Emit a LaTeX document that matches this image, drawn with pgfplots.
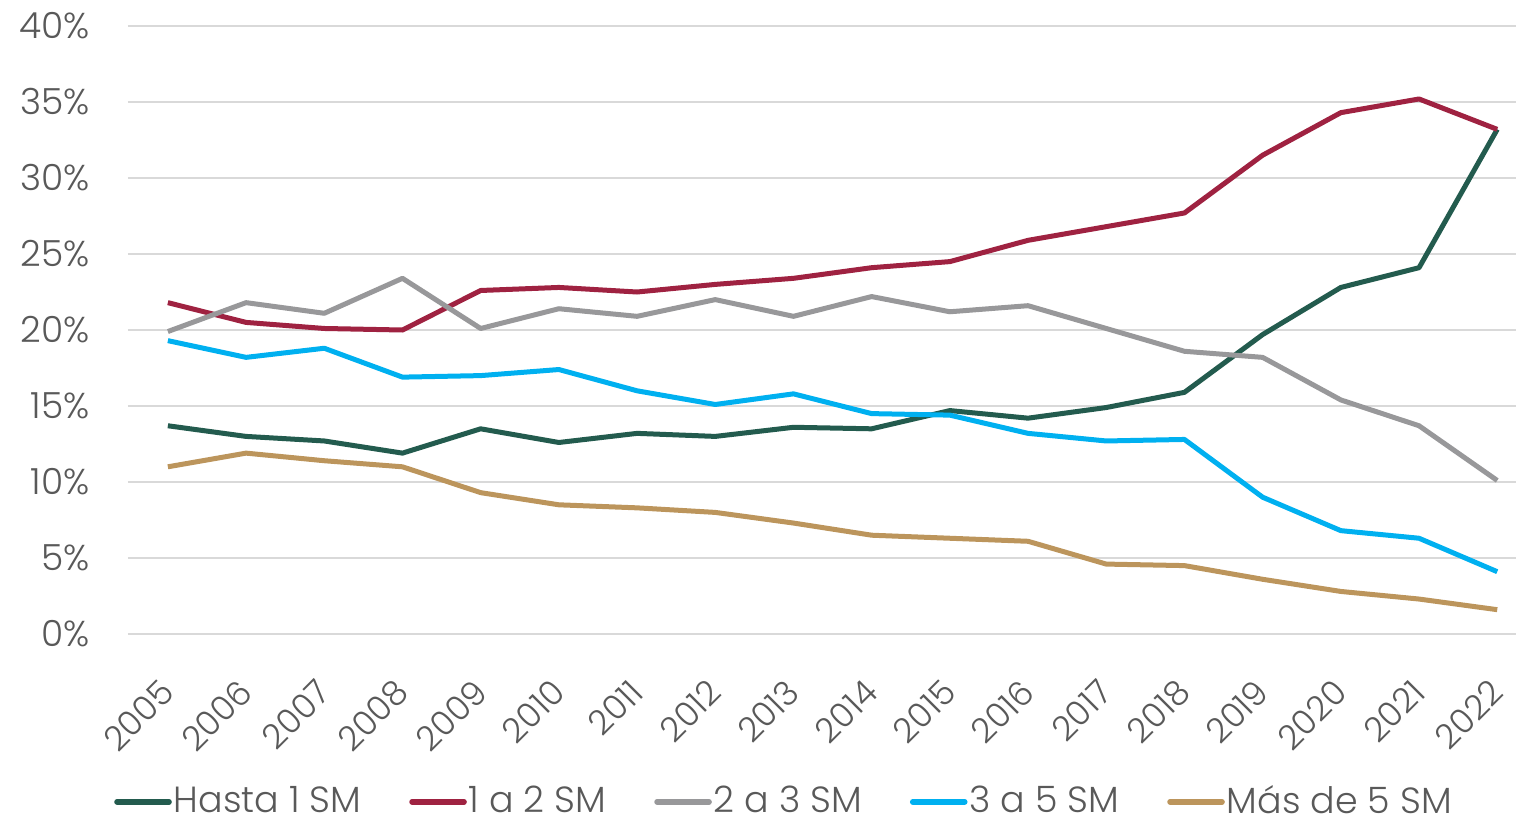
\documentclass[border=0pt]{standalone}
\usepackage{fontspec}
\IfFontExistsTF{Poppins Light}{\setmainfont{Poppins Light}}{\setmainfont{Poppins}}
\usepackage{pgfplots}
\pgfplotsset{compat=1.18}
\definecolor{cverde}{HTML}{235B4E}
\definecolor{cguinda}{HTML}{9F2241}
\definecolor{cgris}{HTML}{98989A}
\definecolor{ccian}{HTML}{00B0F0}
\definecolor{cdorado}{HTML}{BC955C}
\definecolor{ctext}{HTML}{595959}
\definecolor{cgrid}{HTML}{D9D9D9}
\begin{document}
\begin{tikzpicture}
\fontsize{18pt}{21pt}\selectfont
\begin{axis}[
  scale only axis,
  width=694pt, height=304pt,
  xmin=2004.49, xmax=2022.24,
  ymin=0, ymax=40,
  axis line style={draw=none},
  major tick length=0pt,
  xtick={2005,...,2022},
  ytick={0,5,...,40},
  yticklabel={\pgfmathprintnumber{\tick}\%},
  /pgf/number format/1000 sep={},
  /pgf/number format/assume math mode=true,
  ymajorgrids,
  grid style={cgrid, line width=0.8pt},
  ticklabel style={font=\fontsize{18pt}{21pt}\selectfont, text=ctext},
  yticklabel style={anchor=east, inner sep=0pt, xshift=-19pt},
  xticklabel style={anchor=east, rotate=45, inner sep=0pt, font=\fontsize{17pt}{20pt}\selectfont},
  xticklabel shift=26pt,
  legend columns=5,
  legend style={draw=none, fill=none, at={(0.4726,-0.276)}, anchor=center,
    font=\fontsize{18.2pt}{21pt}\selectfont, text=ctext,
    /tikz/every even column/.append style={column sep=23pt},
    nodes={inner sep=1pt}},
  legend image code/.code={\draw[#1, line width=2.8pt, line cap=round] (0pt,0pt) -- (26pt,0pt);},
  every axis plot/.append style={line width=2.5pt, line join=round},
]
\addplot[cverde] coordinates {(2005,13.7)(2006,13.0)(2007,12.7)(2008,11.9)(2009,13.5)(2010,12.6)(2011,13.2)(2012,13.0)(2013,13.6)(2014,13.5)(2015,14.7)(2016,14.2)(2017,14.9)(2018,15.9)(2019,19.7)(2020,22.8)(2021,24.1)(2022,33.2)};
\addlegendentry{Hasta 1 SM}
\addplot[cguinda] coordinates {(2005,21.8)(2006,20.5)(2007,20.1)(2008,20.0)(2009,22.6)(2010,22.8)(2011,22.5)(2012,23.0)(2013,23.4)(2014,24.1)(2015,24.5)(2016,25.9)(2017,26.8)(2018,27.7)(2019,31.5)(2020,34.3)(2021,35.2)(2022,33.2)};
\addlegendentry{1 a 2 SM}
\addplot[cgris] coordinates {(2005,19.9)(2006,21.8)(2007,21.1)(2008,23.4)(2009,20.1)(2010,21.4)(2011,20.9)(2012,22.0)(2013,20.9)(2014,22.2)(2015,21.2)(2016,21.6)(2017,20.1)(2018,18.6)(2019,18.2)(2020,15.4)(2021,13.7)(2022,10.1)};
\addlegendentry{2 a 3 SM}
\addplot[ccian] coordinates {(2005,19.3)(2006,18.2)(2007,18.8)(2008,16.9)(2009,17.0)(2010,17.4)(2011,16.0)(2012,15.1)(2013,15.8)(2014,14.5)(2015,14.4)(2016,13.2)(2017,12.7)(2018,12.8)(2019,9.0)(2020,6.8)(2021,6.3)(2022,4.1)};
\addlegendentry{3 a 5 SM}
\addplot[cdorado] coordinates {(2005,11.0)(2006,11.9)(2007,11.4)(2008,11.0)(2009,9.3)(2010,8.5)(2011,8.3)(2012,8.0)(2013,7.3)(2014,6.5)(2015,6.3)(2016,6.1)(2017,4.6)(2018,4.5)(2019,3.6)(2020,2.8)(2021,2.3)(2022,1.6)};
\addlegendentry{Más de 5 SM}
\end{axis}
\pgfresetboundingbox
\path[use as bounding box] (-64pt,-93.5pt) rectangle (694pt,317pt);
\end{tikzpicture}
\end{document}
